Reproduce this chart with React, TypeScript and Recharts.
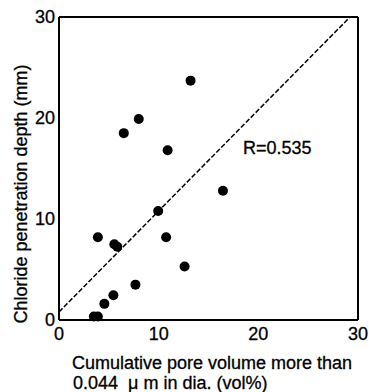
import React from 'react'
import { ScatterChart, Scatter, XAxis, YAxis } from 'recharts'

// pore volume (vol%) vs chloride penetration depth (mm)
const poreVolume = [13.2, 8.0, 6.5, 10.9, 16.45, 9.95, 3.9, 10.75, 5.55, 5.85, 12.6, 7.67, 5.46, 4.55, 3.5, 3.9]
const depth = [23.7, 19.9, 18.5, 16.8, 12.8, 10.8, 8.2, 8.2, 7.5, 7.25, 5.3, 3.5, 2.45, 1.6, 0.35, 0.35]

// regression line end points
const fitX = [0, 29.2]
const fitY = [0.8, 30]

const axisTicks = [0, 5, 10, 15, 20, 25, 30]

const points = poreVolume.map((x, i) => ({ x, y: depth[i] }))
const fitLine = fitX.map((x, i) => ({ x, y: fitY[i] }))

const font = '"Liberation Sans", Arial, sans-serif'
const ink = '#000'

const fmt = (v: number) => (v % 10 === 0 ? String(v) : '')

const Dot = (props: any) => <circle cx={props.cx} cy={props.cy} r={5} fill={ink} />

export default function App() {
  const tickStyle = { fill: ink, fontSize: 18, fontFamily: font, stroke: ink, strokeWidth: 0.3 }
  const tickLine = { stroke: ink, strokeWidth: 1.5 }
  const edge = { stroke: ink, strokeWidth: 2 }
  const txt = { fontSize: 18, fontFamily: font, fill: ink, stroke: ink, strokeWidth: 0.3 }
  return (
    <div style={{ position: 'absolute', left: 0, top: 0, width: 369, height: 392, background: '#fff' }}>
      <ScatterChart width={369} height={392} margin={{ top: 17, right: 11, left: 0, bottom: 42 }}>
        <XAxis xAxisId="b" type="number" dataKey="x" domain={[0, 30]} ticks={axisTicks} tickFormatter={fmt}
          tickSize={0} tickMargin={7} height={30} axisLine={edge} tick={tickStyle} />
        <XAxis xAxisId="bm" type="number" dataKey="x" domain={[0, 30]} ticks={axisTicks} orientation="bottom"
          mirror tick={false} tickSize={5} axisLine={false} tickLine={tickLine} />
        <XAxis xAxisId="t" type="number" dataKey="x" domain={[0, 30]} ticks={axisTicks} orientation="top"
          mirror tick={false} tickSize={5} axisLine={edge} tickLine={tickLine} />
        <YAxis yAxisId="l" type="number" dataKey="y" domain={[0, 30]} ticks={axisTicks} tickFormatter={fmt}
          tickSize={0} tickMargin={4} width={59} axisLine={edge} tick={tickStyle} />
        <YAxis yAxisId="lm" type="number" dataKey="y" domain={[0, 30]} ticks={axisTicks} orientation="left"
          mirror tick={false} tickSize={5} axisLine={false} tickLine={tickLine} />
        <YAxis yAxisId="r" type="number" dataKey="y" domain={[0, 30]} ticks={axisTicks} orientation="right"
          mirror tick={false} tickSize={5} axisLine={edge} tickLine={tickLine} />
        <Scatter xAxisId="b" yAxisId="l" data={fitLine} isAnimationActive={false}
          line={{ stroke: ink, strokeWidth: 1.5, strokeDasharray: '5 2' }} shape={() => <g />} />
        <Scatter xAxisId="b" yAxisId="l" data={points} isAnimationActive={false} shape={Dot} />
      </ScatterChart>
      <svg width={369} height={392} style={{ position: 'absolute', left: 0, top: 0, pointerEvents: 'none' }}>
        <text x={243} y={154} {...txt}>R=0.535</text>
        <text transform="translate(27,194) rotate(-90)" textAnchor="middle" {...txt}>
          Chloride penetration depth (mm)
        </text>
        <text x={212} y={369} textAnchor="middle" {...txt}>
          Cumulative pore volume more than
        </text>
        <text x={73} y={389} style={{ whiteSpace: 'pre' }} {...txt}>
          {'0.044  \u03bc m in dia. (vol%)'}
        </text>
      </svg>
    </div>
  )
}
